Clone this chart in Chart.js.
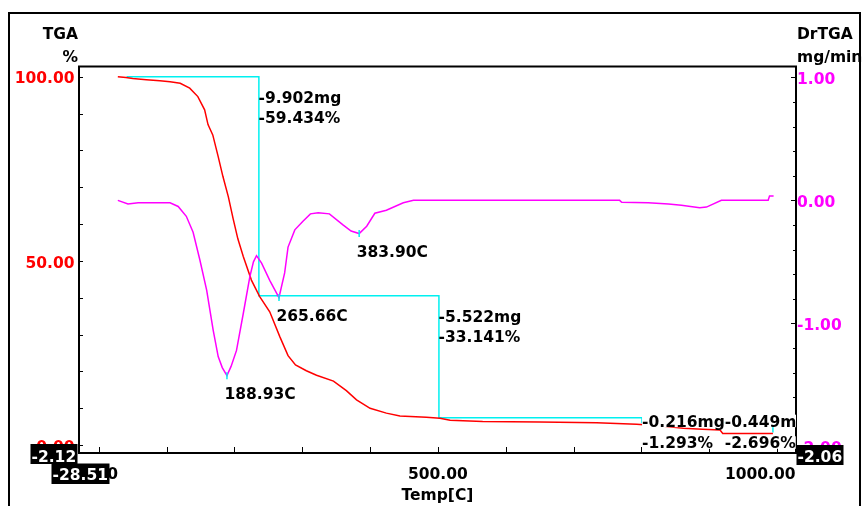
<!DOCTYPE html>
<html>
<head>
<meta charset="utf-8">
<script src="https://cdn.jsdelivr.net/npm/chart.js@4.4.0/dist/chart.umd.min.js"></script>
<style>
    html, body { margin: 0; padding: 0; background: #fff; }
    #wrap { width: 862px; height: 506px; }
</style>
</head>
<body>
<div id="wrap"><canvas id="tgaChart" width="862" height="506"></canvas></div>
<script>
/* ==============================
   DATA
 ============================== */
const tgaTemp = [28, 40, 50, 70, 90, 105, 120, 134, 146, 156, 161, 168, 176, 183, 191, 198, 205, 213, 225, 237, 252, 267, 279, 290, 306, 321, 346, 365, 380, 400, 424, 444, 483, 503, 518, 566, 650, 734, 793, 830, 862, 890, 916, 920, 994];
const tgaPct  = [100, 99.8, 99.5, 99.2, 98.9, 98.6, 98.2, 96.9, 94.6, 91, 87, 84.2, 78.3, 72.9, 67.4, 61.5, 56, 51.2, 44.8, 40.4, 36.2, 29.4, 24.3, 21.8, 20.2, 19, 17.4, 14.8, 12.3, 10, 8.7, 7.9, 7.6, 7.3, 6.8, 6.4, 6.3, 6.1, 5.7, 5.2, 4.6, 4.3, 4.1, 3.2, 3.2];

const drTemp = [28, 43, 58, 105, 117, 129, 139, 149, 159, 168.6, 176, 182, 188.93, 195, 203, 213, 222.7, 228, 232.5, 240, 252, 265.66, 274, 279, 289, 301, 312, 323.5, 340, 360, 372, 383.9, 395, 407, 424, 449, 464, 591, 768, 771, 810, 840, 859, 886, 896, 918, 987, 989, 995];
const drRate = [0, -0.03, -0.02, -0.02, -0.05, -0.13, -0.26, -0.485, -0.73, -1.055, -1.27, -1.36, -1.425, -1.35, -1.22, -0.92, -0.62, -0.5, -0.45, -0.51, -0.65, -0.79, -0.59, -0.38, -0.24, -0.17, -0.11, -0.1, -0.11, -0.2, -0.25, -0.27, -0.21, -0.105, -0.08, -0.02, 0, 0, 0, -0.015, -0.02, -0.03, -0.04, -0.06, -0.055, 0, 0, 0.035, 0.035];

// step analysis (cyan)
const stepTemp = [41, 236, 236, 501.5, 501.5, 801, 801, 994, 994];
const stepPct  = [100, 100, 40.566, 40.566, 7.425, 7.425, 6.132, 6.132, 3.436];

// step labels: text, temperature, % (anchor of the text baseline)
const stepLabels = ['-9.902mg', '-59.434%', '-5.522mg', '-33.141%', '-0.216mg', '-1.293%', '-0.449mg', '-2.696%'];
const stepLabelTemp = [235.5, 235.5, 501, 501, 801, 801, 923, 923];
const stepLabelPct  = [92.8, 87.35, 33.5, 28.1, 5.02, -0.84, 5.02, -0.84];

// DrTGA peaks
const peakTemp = [188.93, 265.66, 383.90];
const peakRate = [-1.425, -0.79, -0.27];
const peakText = ['188.93C', '265.66C', '383.90C'];

// tick labels
const xTickVals = [0, 500, 1000];
const xTickText = ['0.00', '500.00', '1000.00'];
const leftTickVals = [0, 50, 100];
const leftTickText = ['0.00', '50.00', '100.00'];
const rightTickVals = [-2, -1, 0, 1];
const rightTickText = ['-2.00', '-1.00', '0.00', '1.00'];

// --- UTILITIES ---
const FONT = 'bold 15.5px "DejaVu Sans"';
const toXY = (xs, ys) => xs.map((v, i) => ({ x: v, y: ys[i] }));

const line = (ctx, x1, y1, x2, y2) => {
    ctx.beginPath(); ctx.moveTo(x1, y1); ctx.lineTo(x2, y2); ctx.stroke();
};

// black value box; anchor 'left' or 'right' edge at ax
const blackBox = (ctx, text, ax, anchor, y, h, base) => {
    const w = Math.ceil(ctx.measureText(text).width) + 2;
    const left = anchor === 'right' ? ax - w : ax;
    ctx.fillStyle = '#000';
    ctx.fillRect(left, y, w, h);
    ctx.fillStyle = '#fff';
    ctx.textAlign = 'left';
    ctx.fillText(text, left + 1, base);
};

const decor = {
    id: 'decor',
    beforeDraw(chart) {
        const ctx = chart.ctx;
        ctx.save();
        ctx.fillStyle = '#fff';
        ctx.fillRect(0, 0, chart.width, chart.height);
        ctx.restore();
    },
    afterDraw(chart) {
        const ctx = chart.ctx;
        const { x, yL, yR } = chart.scales;
        const a = chart.chartArea;
        ctx.save();

        // outer frame
        ctx.strokeStyle = '#000';
        ctx.lineWidth = 2;
        ctx.beginPath();
        ctx.moveTo(9, 506); ctx.lineTo(9, 13); ctx.lineTo(860, 13); ctx.lineTo(860, 506);
        ctx.stroke();

        // plot box
        ctx.strokeRect(79, a.top, 796 - 79, 453 - a.top);

        // ticks (inward)
        ctx.lineWidth = 1;
        for (let v = 0; v <= 100; v += 10) {
            const py = Math.round(yL.getPixelForValue(v)) + 0.5;
            line(ctx, 80, py, 83, py);
        }
        for (let i = -10; i <= 5; i++) {
            const py = Math.round(yR.getPixelForValue(i * 0.2)) + 0.5;
            if (i % 5 === 0) line(ctx, 791, py, 796, py);
            else line(ctx, 793, py, 796, py);
        }
        for (let t = 0; t <= 1000; t += 100) {
            const px = Math.round(x.getPixelForValue(t)) + 0.5;
            line(ctx, px, 452, px, 447);
        }

        ctx.font = FONT;
        ctx.textBaseline = 'alphabetic';

        // tick labels
        ctx.fillStyle = '#ff0000';
        ctx.textAlign = 'right';
        leftTickVals.forEach((v, i) => ctx.fillText(leftTickText[i], 74.5, yL.getPixelForValue(v) + 6.6));
        ctx.fillStyle = '#ff00ff';
        ctx.textAlign = 'left';
        rightTickVals.forEach((v, i) => ctx.fillText(rightTickText[i], 797, yR.getPixelForValue(v) + 6.6));
        ctx.fillStyle = '#000';
        xTickVals.forEach((v, i) => {
            const w = ctx.measureText(xTickText[i]).width;
            let left = x.getPixelForValue(v) - w / 2;
            if (left + w > 795.5) left = 795.5 - w;
            ctx.textAlign = 'left';
            ctx.fillText(xTickText[i], left, 479);
        });

        // axis titles
        ctx.textAlign = 'right';
        ctx.fillText('TGA', 78, 39);
        ctx.fillText('%', 78, 62);
        ctx.textAlign = 'left';
        ctx.fillText('DrTGA', 797, 39);
        ctx.fillText('mg/min', 797, 62);
        ctx.textAlign = 'center';
        ctx.fillText('Temp[C]', 437.5, 500);

        // peak markers + labels
        ctx.strokeStyle = '#00f0f0';
        ctx.lineWidth = 1.5;
        peakTemp.forEach((t, i) => {
            const px = x.getPixelForValue(t);
            const py = yR.getPixelForValue(peakRate[i]);
            line(ctx, px, py - 3.5, px, py + 3.5);
            ctx.fillStyle = '#000';
            ctx.textAlign = 'left';
            ctx.fillText(peakText[i], px - 2.5, py + 23.5);
        });

        // step labels (clipped to the plot, lower ones with white ground)
        ctx.save();
        ctx.beginPath();
        ctx.rect(a.left, a.top, 796 - a.left, a.bottom - a.top);
        ctx.clip();
        ctx.textAlign = 'left';
        stepLabels.forEach((s, i) => {
            const px = x.getPixelForValue(stepLabelTemp[i]);
            const py = yL.getPixelForValue(stepLabelPct[i]);
            if (i >= 4) {
                ctx.fillStyle = '#fff';
                ctx.fillRect(px, py - 12, ctx.measureText(s).width, 12.5);
            }
            ctx.fillStyle = '#000';
            ctx.fillText(s, px, py);
        });
        ctx.restore();

        // corner value boxes
        blackBox(ctx, '-2.12', 77.5, 'right', 444, 20, 461.7);
        blackBox(ctx, '-28.51', 51.5, 'left', 463.5, 20.5, 480);
        blackBox(ctx, '-2.06', 796.5, 'left', 445, 20, 461.7);

        ctx.restore();
    }
};

new Chart(document.getElementById('tgaChart'), {
    type: 'line',
    data: {
        datasets: [
            { label: 'Step', data: toXY(stepTemp, stepPct), yAxisID: 'yL', borderColor: '#00f0f0', borderWidth: 1.5, pointRadius: 0, tension: 0, order: 3 },
            { label: 'TGA', data: toXY(tgaTemp, tgaPct), yAxisID: 'yL', borderColor: '#ff0000', borderWidth: 1.5, pointRadius: 0, tension: 0, order: 2 },
            { label: 'DrTGA', data: toXY(drTemp, drRate), yAxisID: 'yR', borderColor: '#ff00ff', borderWidth: 1.5, pointRadius: 0, tension: 0, order: 1 }
        ]
    },
    options: {
        responsive: false,
        animation: false,
        devicePixelRatio: 1,
        layout: { padding: { left: 79.5, top: 66.5, right: 66.5, bottom: 53 } },
        plugins: { legend: { display: false }, tooltip: { enabled: false } },
        scales: {
            x: { type: 'linear', min: -28.51, max: 1027.3, display: false },
            yL: { type: 'linear', position: 'left', min: -2.12, max: 102.77, display: false },
            yR: { type: 'linear', position: 'right', min: -2.054, max: 1.088, display: false }
        }
    },
    plugins: [decor]
});
</script>
</body>
</html>
